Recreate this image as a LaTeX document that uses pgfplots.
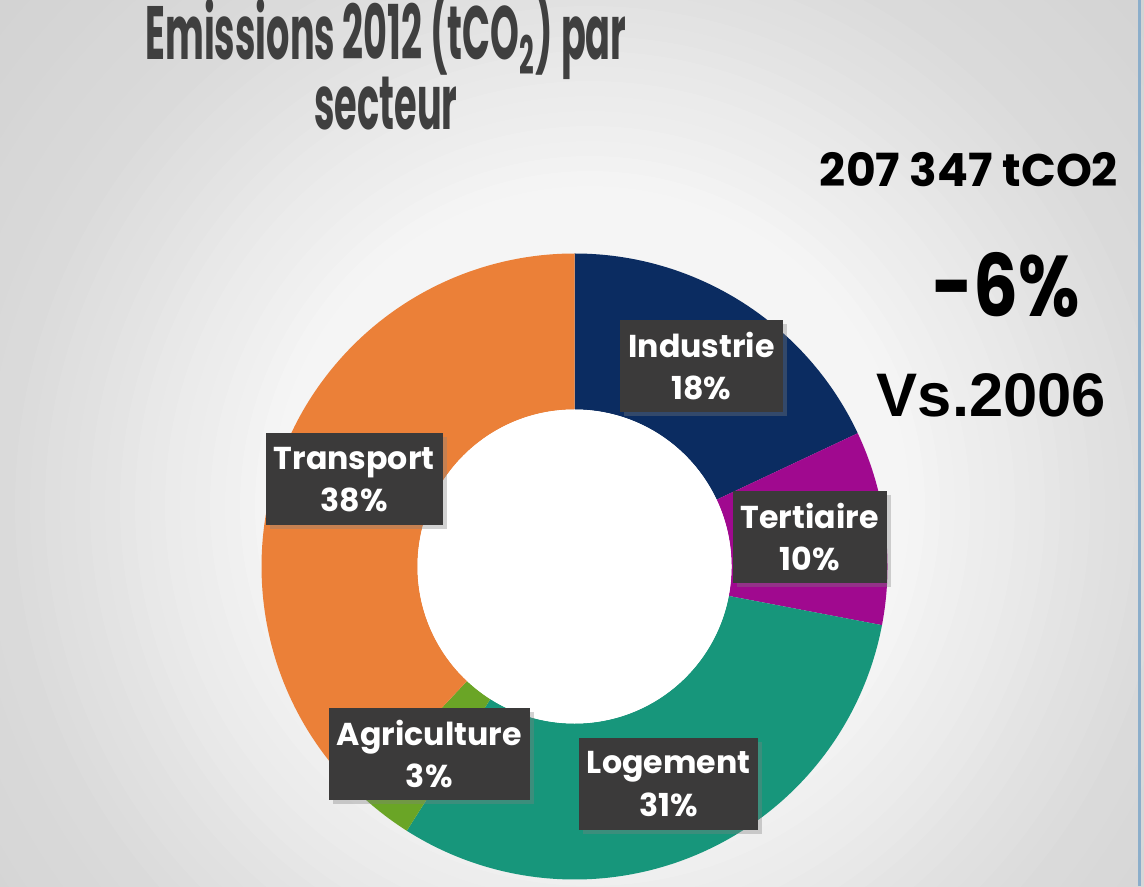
\documentclass[border=0pt]{standalone}
\usepackage{fontspec}
\setmainfont{Poppins}
\newfontfamily\titlefont[FakeStretch=0.485]{Poppins}
\newfontfamily\narrowfont[FakeStretch=0.82]{Poppins}
\newfontfamily\arialfont{Liberation Sans}
\usepackage{pgfplots}
\pgfplotsset{compat=1.18}
\usepackage{pgfplotstable}
\usetikzlibrary{shadows}

\definecolor{cInd}{HTML}{0B2C61}
\definecolor{cTer}{HTML}{A0098F}
\definecolor{cLog}{HTML}{17967B}
\definecolor{cAgr}{HTML}{6AA526}
\definecolor{cTra}{HTML}{EB8038}
\definecolor{boxbg}{HTML}{3B3A3A}
\definecolor{titlegray}{HTML}{3F3F3F}
\definecolor{bgD}{HTML}{D3D3D3}
\definecolor{edgeblue}{HTML}{8BAECB}

% share of 2012 emissions, clockwise from 12 o'clock
\pgfplotstableread{
label       value colour
Industrie   18    cInd
Tertiaire   10    cTer
Logement    31    cLog
Agriculture 3     cAgr
Transport   38    cTra
}\sectors

\begin{document}
\begin{tikzpicture}
\path[use as bounding box] (0,0) rectangle (11.44,8.86);
% grey slide background, lighter round the ring
\begin{scope}
  \clip (0,0) rectangle (11.44,8.86);
  \fill[bgD] (0,0) rectangle (11.44,8.86);
  \foreach \rr in {8.0,7.85,...,3.1}{%
    \pgfmathsetmacro\g{min(250,218+0.1*max(0,590-100*\rr)-0.037*max(0,100*\rr-590))/255}
    \definecolor{bgtmp}{gray}{\g}
    \fill[bgtmp] (5.9,3.8) circle[radius=\rr cm];
  }
\end{scope}
\draw[edgeblue, line width=0.025cm] (11.395,0) -- (11.395,8.86);

\begin{axis}[
  x=1cm, y=1cm,
  xmin=-5.745, xmax=5.695,
  ymin=-3.195, ymax=5.665,
  at={(0,0)}, anchor=south west,
  hide axis, clip=false,
  ]
\pgfplotsextra{
  \def\Rout{3.13cm}\def\Rin{1.57cm}\def\Rlab{2.37cm}
  \begin{scope}[shift={(axis cs:0,0)}]
    \def\astart{90}
    \pgfplotsforeachungrouped \i in {0,...,4}{%
      \pgfplotstablegetelem{\i}{value}\of\sectors \let\secVal\pgfplotsretval
      \pgfplotstablegetelem{\i}{colour}\of\sectors \let\secCol\pgfplotsretval
      \pgfmathsetmacro\aend{\astart-3.6*\secVal}
      \fill[\secCol] (\astart:\Rout) arc[start angle=\astart, end angle=\aend, radius=\Rout]
        -- (\aend:\Rin) arc[start angle=\aend, end angle=\astart, radius=\Rin] -- cycle;
      \let\astart\aend
    }
    \fill[white] (0:0cm) circle[radius=\Rin];
    \def\astart{90}
    \pgfplotsforeachungrouped \i in {0,...,4}{%
      \pgfplotstablegetelem{\i}{value}\of\sectors \let\secVal\pgfplotsretval
      \pgfplotstablegetelem{\i}{label}\of\sectors \let\secLab\pgfplotsretval
      \pgfmathsetmacro\aend{\astart-3.6*\secVal}
      \pgfmathsetmacro\amid{(\astart+\aend)/2}
      \node[fill=boxbg, text=white, font=\fontsize{9}{12}\selectfont\bfseries,
        align=center, inner xsep=0.08cm, minimum height=0.92cm,
        drop shadow={shadow xshift=0.04cm, shadow yshift=-0.04cm, opacity=0.35}]
        at (\amid:\Rlab) {\secLab\\\secVal\%};
      \let\astart\aend
    }
  \end{scope}
}
\end{axis}

\node[anchor=base, text=titlegray, font=\titlefont\fontsize{21.5}{24}\selectfont\bfseries]
  at (3.86,8.26) {Emissions 2012 (tCO\textsubscript{2}) par};
\node[anchor=base, text=titlegray, font=\titlefont\fontsize{21.5}{24}\selectfont\bfseries]
  at (3.86,7.56) {secteur};
\node[anchor=base, font=\fontsize{13}{15}\selectfont\bfseries] at (9.69,6.99) {207 347 tCO2};
\node[anchor=base, font=\narrowfont\fontsize{24.5}{28}\selectfont\bfseries] at (10.065,5.69) {-6\%};
\node[anchor=base, font=\arialfont\fontsize{17.5}{20}\selectfont\bfseries] at (9.915,4.69) {Vs.2006};
\end{tikzpicture}
\end{document}
